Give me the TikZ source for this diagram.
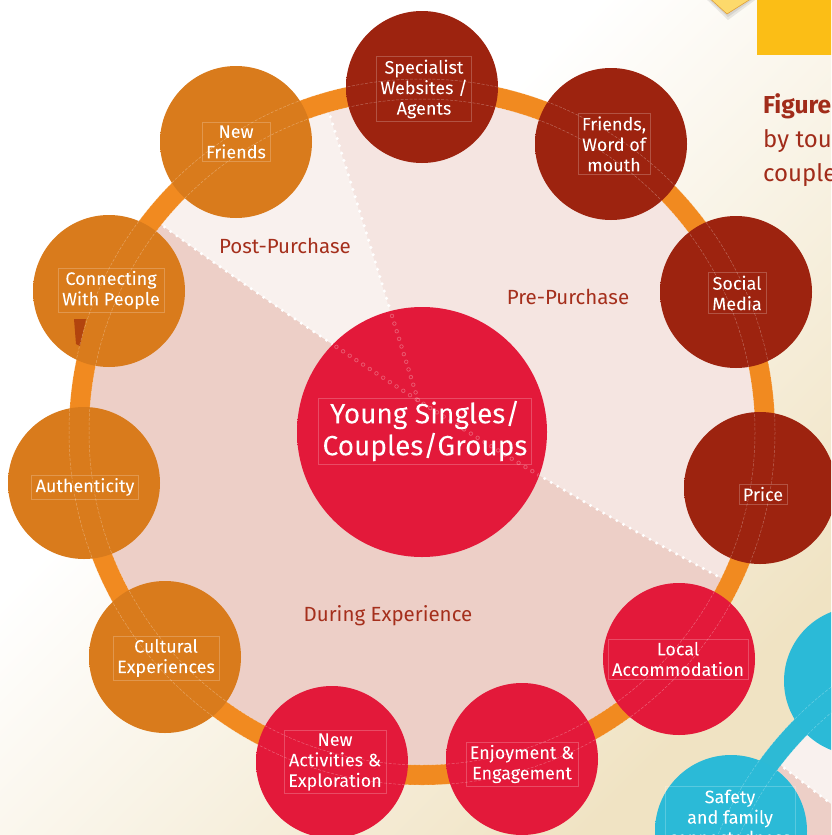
\documentclass[tikz,border=0pt]{standalone}
\usepackage{fontspec}
\setmainfont{Fira Sans}
\newfontfamily\lblfont{Fira Sans}[FakeBold=0.6]
\usetikzlibrary{calc}
\definecolor{bgcream}{HTML}{F0E3C3}
\definecolor{ringor}{HTML}{F18A20}
\definecolor{secpre}{HTML}{F5E5E1}
\definecolor{secpost}{HTML}{F9F1EE}
\definecolor{secdur}{HTML}{EDCFC7}
\definecolor{dredA}{HTML}{9D230F}
\definecolor{dredB}{HTML}{7A1206}
\definecolor{redA}{HTML}{E3193A}
\definecolor{redB}{HTML}{B70F2C}
\definecolor{orA}{HTML}{D97B1C}
\definecolor{orB}{HTML}{B0500E}
\definecolor{bluA}{HTML}{2BBAD7}
\definecolor{bluB}{HTML}{17749E}
\definecolor{bluring}{HTML}{2DBAD5}
\definecolor{labred}{HTML}{A52F1C}
\definecolor{figred}{HTML}{A12C1A}
\definecolor{yelrect}{HTML}{FBBE16}
\definecolor{yelpale}{HTML}{FDD96B}
\definecolor{yeledge}{HTML}{E0A03A}
\definecolor{tabor}{HTML}{B2440E}
\definecolor{chainpink}{HTML}{F4A3AE}
\pgfdeclareradialshading{orbdred}{\pgfpoint{4bp}{-4bp}}{color(0bp)=(dredA); color(40bp)=(dredA); color(54bp)=(dredB); color(60bp)=(dredB)}
\pgfdeclareradialshading{orbred}{\pgfpoint{4bp}{-4bp}}{color(0bp)=(redA); color(40bp)=(redA); color(54bp)=(redB); color(60bp)=(redB)}
\pgfdeclareradialshading{orbor}{\pgfpoint{4bp}{-4bp}}{color(0bp)=(orA); color(40bp)=(orA); color(54bp)=(orB); color(60bp)=(orB)}
\pgfdeclareradialshading{orbblue}{\pgfpoint{4bp}{-4bp}}{color(0bp)=(bluA); color(38bp)=(bluA); color(54bp)=(bluB); color(60bp)=(bluB)}
\pgfdeclareradialshading{orbcentral}{\pgfpoint{0bp}{-3bp}}{color(0bp)=(redA); color(44bp)=(redA); color(53bp)=(redB); color(60bp)=(redB)}
\pgfdeclareverticalshading{bgshade}{100bp}{color(0bp)=(bgcream); color(25bp)=(bgcream); color(60bp)=(white); color(100bp)=(white)}
\begin{document}
\begin{tikzpicture}[x=1pt,y=-1pt,
  orb/.style={circle, minimum size=#1, inner sep=0pt, outer sep=0pt, draw=none, shade},
  lbl/.style={font=\lblfont\fontsize{18}{20.5}\selectfont, text=white, align=center, draw=white, draw opacity=.22, line width=.4pt, inner xsep=4pt, inner ysep=3pt},
  big/.style={font=\lblfont\fontsize{28}{32}\selectfont},
  sec/.style={font=\fontsize{20.5}{24}\selectfont, text=labred, inner sep=0pt},
  dots/.style={white, line width=3.4pt, line cap=round, dash pattern=on 0pt off 7.6pt},
  chainA/.style={chainpink, opacity=.45, line width=4.4pt, line cap=round, dash pattern=on 0pt off 8pt},
  chainB/.style={redA, line width=2.8pt, line cap=round, dash pattern=on 0pt off 8pt},
  edgeline/.style={white, opacity=.3, line width=.5pt, dash pattern=on 3pt off 1.5pt},
]
\useasboundingbox (0,0) rectangle (831,835);
\begin{scope}
\clip (0,0) rectangle (831,835);
\shade[shading=bgshade, shading angle=45] (0,0) rectangle (831,835);
% top right corner
\fill[yelrect] (757,-5) rectangle (836,55);
\fill[black, opacity=.08] (702,-5) -- (728,20) -- (762,-5) -- cycle;
\fill[black, opacity=.08] (704,-5) -- (728,17) -- (759,-5) -- cycle;
\filldraw[fill=yelpale, draw=yeledge, line width=.6pt] (706,-5) -- (727,14) -- (757,-5) -- cycle;
\node[anchor=base west, font=\fontsize{24.5}{28}\selectfont\bfseries, text=figred, inner sep=0pt] (fig1) at (763,113) {Figure};
\node[anchor=base west, font=\fontsize{24}{28}\selectfont, text=figred, inner sep=0pt] (fig2) at (763,147) {by tou};
\node[anchor=base west, font=\fontsize{24}{28}\selectfont, text=figred, inner sep=0pt] (fig3) at (763,181) {couple};
% second diagram (bottom right)
\coordinate (P) at (1045,968);
\begin{scope}
\clip (P) circle[radius=335];
\fill[secdur] (P) circle[radius=340];
\fill[secpost] (P) -- ($(P)+(-142.5:400)$) -- ($(P)+(-100:450)$) -- ($(P)+(-50:400)$) -- cycle;
\draw[dots] ($(P)+(-142.5:336)$) -- ($(P)+(-142.5:200)$);
\end{scope}
\draw[bluring, line width=20pt] (P) circle[radius=343];
% main disk
\coordinate (O) at (422,432);
\coordinate (I) at (418,400);
\coordinate (A) at (140,209);
\coordinate (B) at (740,588);
\coordinate (L1) at (324,96);
\begin{scope}
\clip (O) circle[radius=336];
\fill[secdur] (O) circle[radius=340];
\fill[secpre] (A) .. controls (340,356) and (540,483) .. (B) -- (900,588) -- (900,-100) -- (-100,-100) -- (-100,209) -- cycle;
\begin{scope}
\clip (463,547) -- (290,-12) -- (-200,-12) -- (-200,547) -- cycle;
\fill[secpost] (A) .. controls (340,356) and (540,483) .. (B) -- (900,588) -- (900,-100) -- (-100,-100) -- (-100,209) -- cycle;
\end{scope}
\draw[dots] (A) .. controls (340,356) and (540,483) .. (B);
\draw[dots] (I) -- (L1);
\end{scope}
\draw[ringor, line width=20pt] (O) circle[radius=343];
% section labels
\node[sec] (post) at (285,246) {Post-Purchase};
\node[sec] (pre) at (568,297) {Pre-Purchase};
\node[sec] (dur) at (388,616) {During Experience};
% outer circles
\node[orb=152pt, shading=orbdred] (c0) at (422,87) {};
\node[orb=152pt, shading=orbdred] (c1) at (611,144) {};
\node[orb=152pt, shading=orbdred] (c2) at (736,292) {};
\node[orb=152pt, shading=orbdred] (c3) at (760,488) {};
\node[orb=152pt, shading=orbred] (c4) at (679,659) {};
\node[orb=152pt, shading=orbred] (c5) at (522,759) {};
\node[orb=152pt, shading=orbred] (c6) at (332,762) {};
\node[orb=152pt, shading=orbor] (c7) at (165,657) {};
\node[orb=152pt, shading=orbor] (c8) at (84,483) {};
\node[orb=152pt, shading=orbor] (c9) at (109,291) {};
\node[orb=152pt, shading=orbor] (c10) at (236,142) {};
\node[orb=148pt, shading=orbblue] (b1) at (858,681) {};
\node[orb=152pt, shading=orbblue] (b2) at (731,831) {};
\fill[tabor] (74,319) -- (86,319) -- (80,346) -- (76,344) -- cycle;
% faint ring edges over circles
\draw[edgeline] (O) circle[radius=333];
\draw[edgeline] (O) circle[radius=353];
\draw[edgeline] (P) circle[radius=333];
\draw[edgeline] (P) circle[radius=353];
% central circle
\node[orb=250pt, shading=orbcentral] (ctr) at (O) {};
\begin{scope}
\clip (O) circle[radius=124];
\draw[chainA] (A) .. controls (340,356) and (540,483) .. (B);
\draw[chainB] (A) .. controls (340,356) and (540,483) .. (B);
\draw[chainA] (I) -- (L1);
\draw[chainB] (I) -- (L1);
\end{scope}
% labels
\node[lbl] (t0) at (424,89) {Specialist\\Websites /\\Agents};
\node[lbl] (t1) at (614,144) {Friends,\\Word of\\mouth};
\node[lbl] (t2) at (737,293) {Social\\Media};
\node[lbl] (t3) at (763,494) {Price};
\node[lbl] (t4) at (678,659) {Local\\Accommodation};
\node[lbl] (t5) at (522,764) {Enjoyment \&\\Engagement};
\node[lbl] (t6) at (335,762) {New\\Activities \&\\Exploration};
\node[lbl] (t7) at (166,658) {Cultural\\Experiences};
\node[lbl] (t8) at (85,487) {Authenticity};
\node[lbl] (t9) at (111,290) {Connecting\\With People};
\node[lbl] (t10) at (236,142) {New\\Friends};
\node[lbl, big] (tc) at (425,431) {Young Singles/\\Couples/Groups};
\node[lbl] (ts) at (730,817) {Safety\\and family\\connectedness};
\end{scope}
\end{tikzpicture}
\end{document}
